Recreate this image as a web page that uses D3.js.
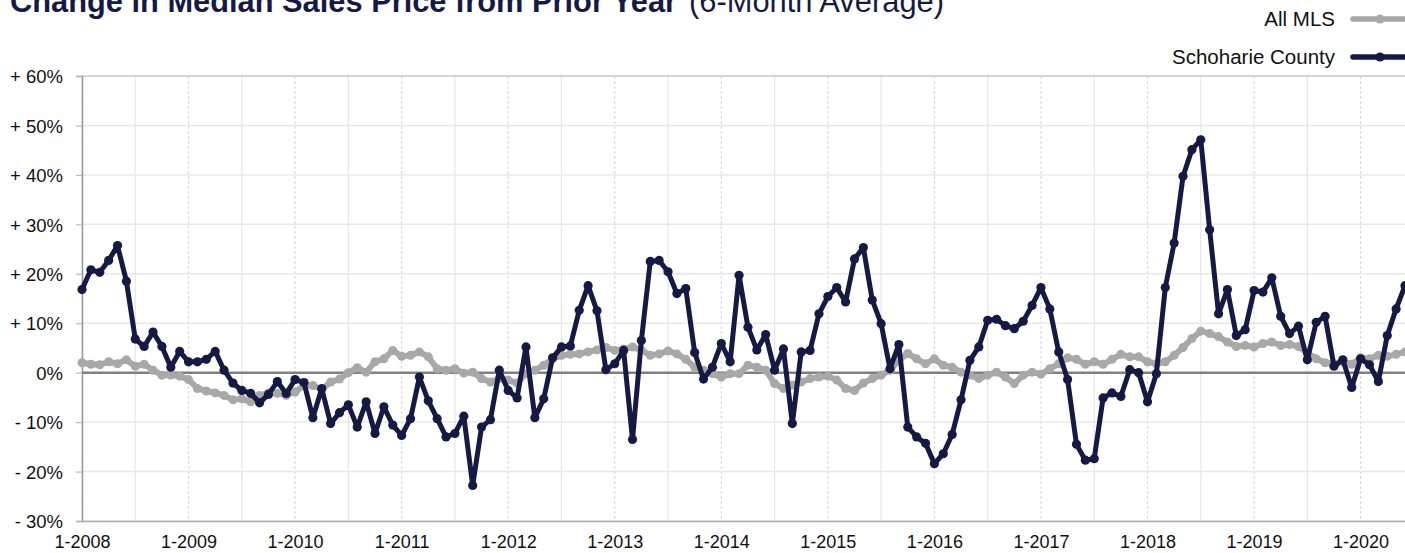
<!DOCTYPE html>
<html>
<head>
<meta charset="utf-8">
<script src="https://cdn.jsdelivr.net/npm/d3@7"></script>
<style>
  html, body { margin: 0; padding: 0; background: #fff; }
  svg { display: block; font-family: "Liberation Sans", Arial, Helvetica, sans-serif; }
</style>
</head>
<body>
<div id="wrap"></div>
<script>
// monthly values, 1-2008 .. 6-2020
const yearLabels = ["1-2008", "1-2009", "1-2010", "1-2011", "1-2012", "1-2013", "1-2014",
  "1-2015", "1-2016", "1-2017", "1-2018", "1-2019", "1-2020"];

const yTicks = [-30, -20, -10, 0, 10, 20, 30, 40, 50, 60];

const schoharie = [
  16.8, 20.8, 20.3, 22.7, 25.7, 18.5, 6.8, 5.3, 8.2, 5.3, 1.1, 4.3,
  2.2, 2.2, 2.7, 4.3, 0.5, -2.1, -3.6, -4.2, -6.1, -4.4, -1.8, -4.2,
  -1.4, -2.0, -9.1, -3.2, -10.3, -8.1, -6.5, -11.0, -5.9, -12.3, -6.9, -10.6,
  -12.7, -9.3, -0.9, -5.7, -9.3, -13.0, -12.3, -8.8, -22.8, -11.0, -9.5, 0.5,
  -3.6, -5.1, 5.2, -9.1, -5.3, 3.0, 5.2, 5.4, 12.6, 17.6, 12.5, 0.6,
  1.8, 4.5, -13.5, 6.5, 22.5, 22.7, 20.4, 16.0, 17.0, 4.1, -1.3, 1.1,
  5.9, 2.2, 19.7, 9.2, 4.6, 7.7, 0.5, 4.8, -10.3, 4.2, 4.5, 11.9,
  15.4, 17.2, 14.3, 23.0, 25.3, 14.7, 9.9, 0.8, 5.7, -11.0, -13.0, -14.3,
  -18.4, -16.4, -12.5, -5.5, 2.5, 5.2, 10.6, 10.8, 9.5, 8.9, 10.4, 13.6,
  17.2, 12.9, 4.2, -1.4, -14.5, -17.7, -17.4, -5.1, -4.1, -4.8, 0.6, 0.0,
  -5.9, -0.2, 17.2, 26.2, 39.7, 45.1, 47.1, 28.9, 11.9, 16.8, 7.5, 8.7,
  16.6, 16.3, 19.2, 11.4, 7.9, 9.4, 2.6, 10.2, 11.4, 1.3, 2.6, -3.0,
  2.8, 1.6, -1.8, 7.5, 12.9, 17.6
];

const allMLS = [
  2.0, 1.7, 1.6, 2.2, 1.8, 2.6, 1.3, 1.7, 0.5, -0.5, -0.5, -0.7,
  -1.4, -3.2, -3.7, -4.1, -4.6, -5.5, -5.3, -5.9, -4.6, -4.1, -4.2, -4.6,
  -3.9, -2.6, -2.6, -3.4, -1.9, -1.3, 0.0, 1.0, 0.1, 2.2, 2.8, 4.5,
  3.3, 3.5, 4.2, 3.2, 0.8, 0.5, 0.8, -0.1, 0.1, -1.2, -1.9, -1.2,
  -1.5, -2.1, -0.2, 0.5, 1.5, 2.8, 3.5, 3.7, 3.8, 4.2, 4.6, 5.1,
  4.5, 4.8, 5.2, 4.5, 3.5, 3.8, 4.4, 3.8, 2.7, 1.1, 0.5, -0.2,
  -0.9, -0.2, -0.2, 1.5, 1.1, 0.5, -2.2, -3.2, -2.5, -1.9, -1.2, -0.9,
  -0.7, -1.5, -3.2, -3.6, -2.1, -1.2, -0.5, 0.5, 2.5, 3.9, 2.8, 1.8,
  2.8, 1.5, 1.1, 0.1, -0.5, -1.2, -0.5, 0.1, -0.9, -2.2, -0.5, 0.1,
  -0.3, 0.8, 1.8, 3.0, 2.7, 1.7, 2.2, 1.7, 2.7, 3.7, 3.2, 3.2,
  2.2, 1.8, 2.2, 3.5, 5.1, 6.9, 8.4, 7.9, 7.3, 6.2, 5.3, 5.5,
  5.2, 5.9, 6.2, 5.5, 5.7, 5.3, 4.0, 2.8, 2.0, 1.8, 2.2, 1.7,
  3.0, 2.8, 3.5, 3.3, 3.7, 4.2
];

const width = 1405;
const height = 553;
const margin = { left: 82, right: 0, top: 76, bottom: 32 };

const NAVY = "#151a45";
const GREY = "#a8a8a8";

const x = d3.scaleLinear()
  .domain([0, schoharie.length - 1])
  .range([margin.left, width - margin.right]);

const y = d3.scaleLinear()
  .domain([-30, 60])
  .range([height - margin.bottom, margin.top]);

const svg = d3.select("#wrap").append("svg")
  .attr("width", width)
  .attr("height", height);

// title (top is cut off in the original too)
svg.append("text")
  .attr("x", 10).attr("y", 12)
  .attr("font-size", 31).attr("font-weight", "bold")
  .attr("fill", NAVY)
  .attr("textLength", 667).attr("lengthAdjust", "spacingAndGlyphs")
  .text("Change in Median Sales Price from Prior Year");
svg.append("text")
  .attr("x", 689).attr("y", 12)
  .attr("font-size", 31)
  .attr("fill", NAVY)
  .attr("textLength", 255).attr("lengthAdjust", "spacingAndGlyphs")
  .text("(6-Month Average)");

// grid
const grid = svg.append("g");
const months = d3.range(0, schoharie.length, 6);
grid.selectAll("line.v")
  .data(months)
  .join("line")
  .attr("x1", d => x(d)).attr("x2", d => x(d))
  .attr("y1", y(60)).attr("y2", y(-30))
  .attr("stroke", d => d % 12 === 0 ? "#dcdcdc" : "#e6e6e6")
  .attr("stroke-width", 1.2)
  .attr("stroke-dasharray", d => d % 12 === 0 ? "3,2" : null);

grid.selectAll("line.h")
  .data(yTicks)
  .join("line")
  .attr("x1", margin.left).attr("x2", width)
  .attr("y1", d => y(d)).attr("y2", d => y(d))
  .attr("stroke", d => d === 60 ? "#c8c8c8" : "#e8e8e8")
  .attr("stroke-width", 1.5);

// y axis
const yAxis = d3.axisLeft(y)
  .tickValues(yTicks)
  .tickSize(6)
  .tickPadding(13)
  .tickFormat(d => d > 0 ? "+ " + d + "%" : d < 0 ? "- " + Math.abs(d) + "%" : "0%");

svg.append("g")
  .attr("transform", `translate(${margin.left},0)`)
  .call(yAxis)
  .call(g => g.select(".domain").attr("stroke", "#999").attr("stroke-width", 1.5))
  .call(g => g.selectAll(".tick line").attr("stroke", "#bbb").attr("stroke-width", 1.2))
  .call(g => g.selectAll(".tick text")
    .attr("font-size", 18.5).attr("fill", "#111")
    .attr("font-family", "Liberation Sans, Arial, sans-serif")
    .attr("dy", "0.36em"));

// x axis
const xAxis = d3.axisBottom(x)
  .tickValues(d3.range(0, schoharie.length, 12))
  .tickSize(0)
  .tickPadding(14)
  .tickFormat((d, i) => yearLabels[i]);

svg.append("g")
  .attr("transform", `translate(0,${y(-30)})`)
  .call(xAxis)
  .call(g => g.select(".domain").attr("stroke", "#aaa").attr("stroke-width", 1.5))
  .call(g => g.selectAll(".tick text")
    .attr("font-size", 18).attr("fill", "#111")
    .attr("font-family", "Liberation Sans, Arial, sans-serif"));

// zero line
svg.append("line")
  .attr("x1", margin.left).attr("x2", width)
  .attr("y1", y(0)).attr("y2", y(0))
  .attr("stroke", "#808080").attr("stroke-width", 2.5);

const line = d3.line()
  .x((d, i) => x(i))
  .y(d => y(d));

function series(data, color, lw, r) {
  const g = svg.append("g");
  g.append("path")
    .attr("d", line(data))
    .attr("fill", "none")
    .attr("stroke", color)
    .attr("stroke-width", lw)
    .attr("stroke-linejoin", "round");
  g.selectAll("circle")
    .data(data)
    .join("circle")
    .attr("cx", (d, i) => x(i))
    .attr("cy", d => y(d))
    .attr("r", r)
    .attr("fill", color);
}

series(allMLS, GREY, 6, 4.5);
series(schoharie, NAVY, 5, 4.6);

// legend
const legend = [
  { name: "All MLS", color: GREY, ly: 19 },
  { name: "Schoharie County", color: NAVY, ly: 57 }
];
const lg = svg.append("g");
legend.forEach(l => {
  lg.append("text")
    .attr("x", 1335).attr("y", l.ly)
    .attr("dy", "0.36em")
    .attr("text-anchor", "end")
    .attr("font-size", 20.5).attr("fill", "#111")
    .text(l.name);
  lg.append("line")
    .attr("x1", 1353).attr("x2", 1405)
    .attr("y1", l.ly).attr("y2", l.ly)
    .attr("stroke", l.color).attr("stroke-width", 5.5)
    .attr("stroke-linecap", "round");
  lg.append("circle")
    .attr("cx", 1380).attr("cy", l.ly).attr("r", 4.6)
    .attr("fill", l.color);
});
</script>
</body>
</html>
